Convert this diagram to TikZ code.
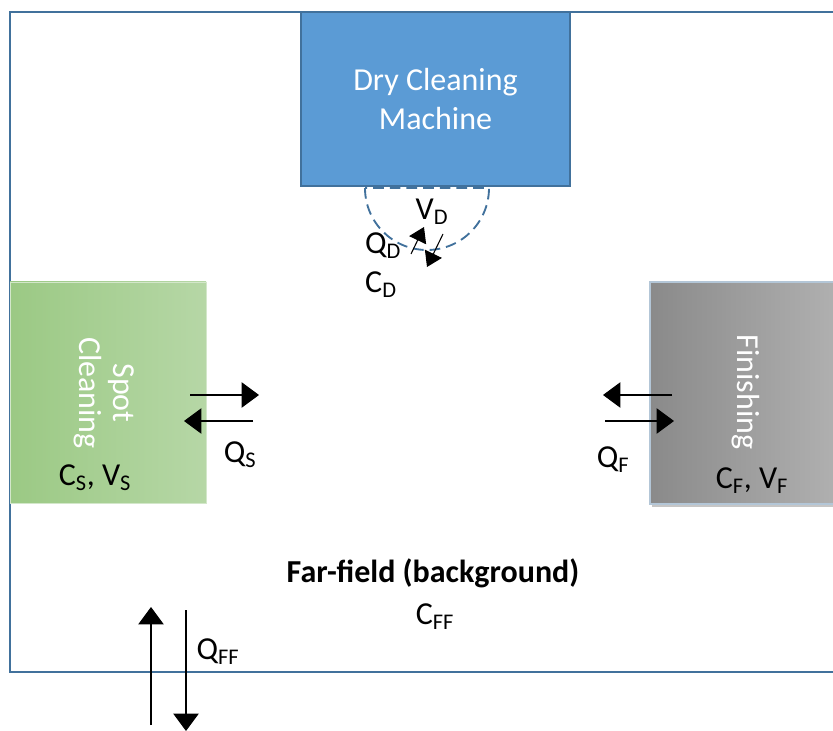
\documentclass[tikz,border=0pt]{standalone}
\usepackage{fontspec}
\setmainfont{Carlito}
\usepackage{xcolor}
\usepackage{tikz}
\usetikzlibrary{arrows.meta, positioning, shadows}
\definecolor{roomline}{RGB}{65,113,156}
\definecolor{machinefill}{RGB}{91,155,213}
\definecolor{spotleft}{RGB}{155,201,132}
\definecolor{spotright}{RGB}{182,215,166}
\definecolor{finleft}{RGB}{138,138,138}
\definecolor{finright}{RGB}{178,178,178}
\tikzset{
  machinebox/.style={rectangle, draw=roomline, line width=1.2pt, fill=machinefill, minimum width=201.75pt, minimum height=130.5pt, align=center, text=white, font=\fontsize{24}{29}\selectfont},
  spotbox/.style={rectangle, draw=spotright!60!white, line width=0.6pt, left color=spotleft, right color=spotright, minimum width=147pt, minimum height=165.75pt},
  finbox/.style={rectangle, draw=roomline!40!white, line width=0.8pt, left color=finleft, right color=finright, minimum width=147pt, minimum height=166.5pt, drop shadow={shadow xshift=1.5pt, shadow yshift=-2pt, opacity=0.45}},
  sidetext/.style={rotate=-90, align=center, text=white, font=\fontsize{24}{25}\selectfont},
  lbl/.style={font=\fontsize{24}{29}\selectfont, inner sep=1pt},
  flowarr/.style={-{Triangle[length=13pt, width=19pt]}, line width=0.8pt},
  smallarr/.style={-{Triangle[length=11pt, width=14pt]}, line width=0.8pt},
}

\begin{document}
\begin{tikzpicture}[x=0.75pt, y=-0.75pt]
  \useasboundingbox (0,0) rectangle (833,731);
  % Room
  \draw[roomline, line width=1.6pt] (870,12) -- (10,12) -- (10,672) -- (870,672);

  % Nodes
  \node[machinebox] (machine) at (435.5,99) {Dry Cleaning\\Machine};
  \draw[roomline, line width=1.4pt, dash pattern=on 8pt off 4.5pt] (365,188) arc (180:0:62) -- cycle;
  \node[spotbox] (spot) at (108,392.5) {};
  \node[sidetext] (spottxt) at (104,393) {Spot\\Cleaning};
  \node[finbox] (finish) at (748,393) {};
  \node[sidetext] (fintxt) at (746,392) {Finishing};

  \node[lbl] (vd) at (432,212) {V\textsubscript{D}};
  \node[lbl] (qd) at (383,246) {Q\textsubscript{D}};
  \node[lbl] (cd) at (381,285) {C\textsubscript{D}};
  \node[lbl] (csvs) at (95,478) {C\textsubscript{S}, V\textsubscript{S}};
  \node[lbl] (qs) at (240,455) {Q\textsubscript{S}};
  \node[lbl] (qf) at (613,460) {Q\textsubscript{F}};
  \node[lbl] (cfvf) at (752,481) {C\textsubscript{F}, V\textsubscript{F}};
  \node[lbl, font=\fontsize{24}{29}\selectfont\bfseries] (far) at (433,573) {Far-field (background)};
  \node[lbl] (cff) at (435,617) {C\textsubscript{FF}};
  \node[lbl] (qff) at (218,652) {Q\textsubscript{FF}};

  % Arrow ends
  \coordinate (dIn) at (411,254);
  \coordinate (dInTip) at (424,227);
  \coordinate (dOut) at (443,234);
  \coordinate (dOutTip) at (427,267);
  \coordinate (sA) at (190,395);
  \coordinate (sB) at (259,395);
  \coordinate (sC) at (253,421);
  \coordinate (sD) at (184,421);
  \coordinate (fA) at (672,395);
  \coordinate (fB) at (603,395);
  \coordinate (fC) at (605,421);
  \coordinate (fD) at (674,421);
  \coordinate (ffA) at (151,725);
  \coordinate (ffB) at (151,607);
  \coordinate (ffC) at (186,610);
  \coordinate (ffD) at (186,731);

  % Arrows
  \draw[smallarr] (dIn) -- (dInTip);
  \draw[smallarr] (dOut) -- (dOutTip);
  \draw[flowarr] (sA) -- (sB);
  \draw[flowarr] (sC) -- (sD);
  \draw[flowarr] (fA) -- (fB);
  \draw[flowarr] (fC) -- (fD);
  \draw[flowarr] (ffA) -- (ffB);
  \draw[flowarr] (ffC) -- (ffD);
\end{tikzpicture}
\end{document}
